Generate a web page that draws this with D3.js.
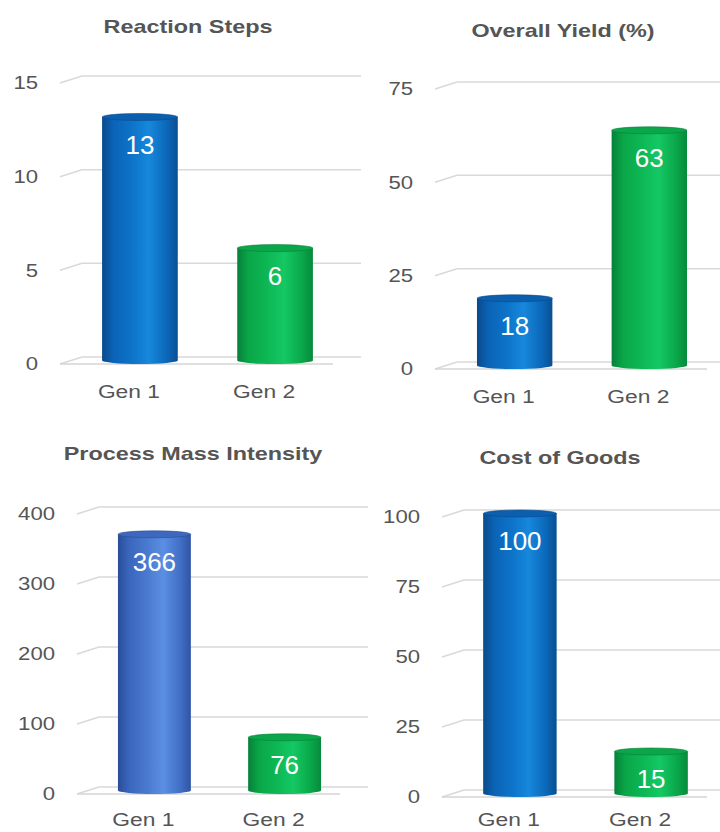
<!DOCTYPE html>
<html>
<head>
<meta charset="utf-8">
<script src="https://cdn.jsdelivr.net/npm/d3@7"></script>
<style>
  body { margin: 0; background: #fff; }
  svg { display: block; font-family: "Liberation Sans", Arial, sans-serif; }
</style>
</head>
<body>
<div id="chart"></div>
<script>
// data
const categories = ["Gen 1", "Gen 2"];
const reactionSteps = [13, 6];
const overallYield = [18, 63];
const massIntensity = [366, 76];
const costOfGoods = [100, 15];
const stepsTicks = [0, 5, 10, 15];
const yieldTicks = [0, 25, 50, 75];
const pmiTicks = [0, 100, 200, 300, 400];
const cogTicks = [0, 25, 50, 75, 100];

// layout of the four little 3d charts (front floor x range, back wall y range)
const panels = [
  { title: "Reaction Steps", values: reactionSteps, ticks: stepsTicks, colors: ["blue", "green"],
    fx0: 60, fx1: 333, y0: 357, y1: 76, titleX: 188, titleY: 33 },
  { title: "Overall Yield (%)", values: overallYield, ticks: yieldTicks, colors: ["blue", "green"],
    fx0: 435, fx1: 707, y0: 362, y1: 82, titleX: 563, titleY: 37 },
  { title: "Process Mass Intensity", values: massIntensity, ticks: pmiTicks, colors: ["royal", "green"],
    fx0: 77, fx1: 340, y0: 787, y1: 507, titleX: 193, titleY: 460 },
  { title: "Cost of Goods", values: costOfGoods, ticks: cogTicks, colors: ["blue", "green"],
    fx0: 442, fx1: 707, y0: 790, y1: 510, titleX: 560, titleY: 464 }
];

const width = 720, height = 832;
const dx = 22, dy = 7;   // depth offset of the 3d floor
const grey = "#555555";

const svg = d3.select("#chart").append("svg")
  .attr("width", width)
  .attr("height", height);

// cylinder shading
const shades = {
  blue:  { body: ["#0a4a8a", "#0b63b6", "#0d74c9", "#1688dc", "#0c68ba", "#0a4f93"], top: "#0c5fae" },
  green: { body: ["#06803a", "#0aa648", "#0db854", "#14c864", "#0aa84a", "#078a3c"], top: "#0ca64a" },
  royal: { body: ["#2a4c98", "#3a66bd", "#4a7ad0", "#5b8fe4", "#4170c6", "#2f55a4"], top: "#3e68bd" }
};
const offsets = [0, 0.15, 0.4, 0.62, 0.85, 1];
const defs = svg.append("defs");
Object.keys(shades).forEach(k => {
  const g = defs.append("linearGradient").attr("id", "grad-" + k)
    .attr("x1", 0).attr("x2", 1).attr("y1", 0).attr("y2", 0);
  shades[k].body.forEach((c, i) => g.append("stop").attr("offset", offsets[i]).attr("stop-color", c));
});

// text helper: the picture is stretched sideways, so the text is too
function label(sel, x, y, sx) {
  return sel.attr("transform", "translate(" + x + "," + y + ") scale(" + sx + ",1)");
}

panels.forEach(p => {
  const g = svg.append("g");
  const maxT = d3.max(p.ticks);

  const y = d3.scaleLinear().domain([0, maxT]).range([p.y0, p.y1]);
  const x = d3.scaleBand().domain(categories)
    .range([p.fx0 + dx / 2, p.fx1 + dx / 2])
    .paddingInner(0.44)
    .paddingOuter(0.23);

  // gridlines: slanted side wall + back wall
  g.selectAll(".grid")
    .data(p.ticks)
    .enter()
    .append("path")
    .attr("d", t => "M" + p.fx0 + "," + (y(t) + dy) + "L" + (p.fx0 + dx) + "," + y(t) + "L" + (p.fx1 + dx + 6) + "," + y(t))
    .attr("fill", "none")
    .attr("stroke", "#d9d9d9")
    .attr("stroke-width", 1.5);

  // floor front edge
  g.append("line")
    .attr("x1", p.fx0).attr("x2", p.fx1)
    .attr("y1", p.y0 + dy).attr("y2", p.y0 + dy)
    .attr("stroke", "#d4d4d4")
    .attr("stroke-width", 1.5);

  // tick labels
  g.selectAll(".tick")
    .data(p.ticks)
    .enter()
    .append("text")
    .call(s => s.attr("transform", t => "translate(" + (p.fx0 - 22) + "," + (y(t) + dy) + ") scale(1.23,1)"))
    .attr("dy", "0.35em")
    .attr("text-anchor", "end")
    .attr("font-size", 18)
    .attr("fill", grey)
    .text(t => t);

  // cylinders
  const bw = x.bandwidth();
  const ry = 3.5;
  categories.forEach((c, i) => {
    const v = p.values[i];
    const cx = x(c) + bw / 2;
    const rx = bw / 2;
    const top = y(v) + ry;
    const bottom = p.y0 + ry;
    const col = p.colors[i];

    g.append("path")
      .attr("d", "M" + (cx - rx) + "," + top + "L" + (cx - rx) + "," + bottom +
        "A" + rx + "," + ry + " 0 0 0 " + (cx + rx) + "," + bottom + "L" + (cx + rx) + "," + top + "Z")
      .attr("fill", "url(#grad-" + col + ")");

    g.append("ellipse")
      .attr("cx", cx).attr("cy", top)
      .attr("rx", rx).attr("ry", ry)
      .attr("fill", shades[col].top)
      .attr("stroke", shades[col].body[0])
      .attr("stroke-width", 0.6);

    // value inside the bar
    g.append("text")
      .attr("x", cx)
      .attr("y", y(v) + 31)
      .attr("dy", "0.35em")
      .attr("text-anchor", "middle")
      .attr("font-size", 26)
      .attr("fill", "#fff")
      .text(v);

    // category under the floor (kept inside the page at the bottom)
    label(g.append("text"), cx - dx / 2, Math.min(p.y0 + dy + 34, 826), 1.2)
      .attr("text-anchor", "middle")
      .attr("font-size", 19)
      .attr("fill", grey)
      .text(c);
  });

  // title
  label(g.append("text"), p.titleX, p.titleY, 1.3)
    .attr("text-anchor", "middle")
    .attr("font-size", 18)
    .attr("font-weight", "bold")
    .attr("fill", grey)
    .text(p.title);
});
</script>
</body>
</html>
